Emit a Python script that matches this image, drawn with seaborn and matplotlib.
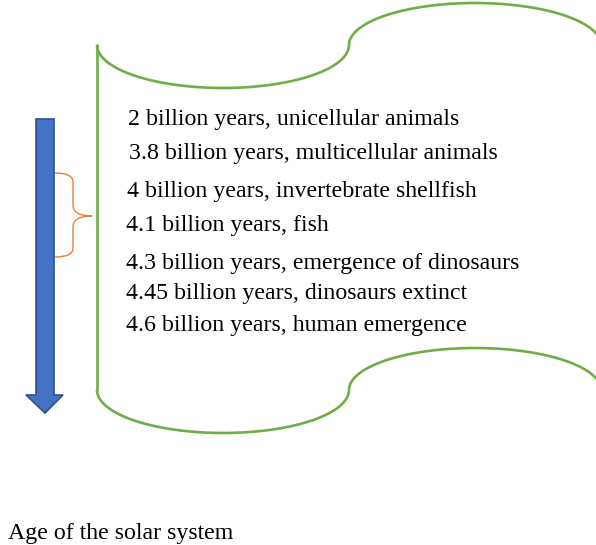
import numpy as np
import matplotlib
matplotlib.use("Agg")
import matplotlib.pyplot as plt
import seaborn as sns
from matplotlib.patches import Polygon
from matplotlib.path import Path
from matplotlib.patches import PathPatch

# ---- data ----
ages = ["2", "3.8", "4", "4.1", "4.3", "4.45", "4.6"]
events = ["unicellular animals", "multicellular animals", "invertebrate shellfish",
          "fish", "emergence of dinosaurs", "dinosaurs extinct", "human emergence"]
axis_title = "Age of the solar system"

# ---- layout (pixels) ----
text_x = [128, 129, 127, 126, 126, 126, 126]
text_y = [120, 154, 191, 226, 263, 293, 325]

sns.set_theme(style="white")
plt.rcParams['font.family'] = ['Liberation Serif', 'DejaVu Serif']

W, H = 596, 545
fig = plt.figure(figsize=(W / 100, H / 100), dpi=100)
ax = fig.add_axes([0, 0, 1, 1])
ax.set_xlim(0, W)
ax.set_ylim(H, 0)
ax.axis("off")

green = "#70AD47"
lw = 1.9

def wave(y0):
    t1 = np.linspace(np.pi, 0, 200)
    xa = 223 + 126 * np.cos(t1)
    ya = y0 + 43 * np.sin(t1)
    t2 = np.linspace(np.pi, 0, 200)
    xb = 475 + 126 * np.cos(t2)
    yb = y0 - 42 * np.sin(t2)
    return np.concatenate([xa, xb]), np.concatenate([ya, yb])

top_y, bot_y = 45, 390
xt, yt = wave(top_y)
xbm, ybm = wave(bot_y)
ax.plot(xt, yt, color=green, lw=lw, solid_capstyle="butt")
ax.plot(xbm, ybm, color=green, lw=lw, solid_capstyle="butt")
ax.plot([97, 97], [top_y, bot_y], color=green, lw=lw)

# blue arrow
arrow = Polygon([(36, 119), (54, 119), (54, 395), (63, 395), (45, 413),
                 (26, 395), (36, 395)], closed=True,
                facecolor="#4472C4", edgecolor="#2F528F", lw=1.2)
ax.add_patch(arrow)

# orange brace
verts = [(55, 173), (73, 173), (73, 182), (73, 190),
         (73, 205), (73, 216), (92, 216),
         (73, 216), (73, 227), (73, 242),
         (73, 248), (73, 257), (55, 257)]
codes = [Path.MOVETO, Path.CURVE3, Path.CURVE3, Path.LINETO,
         Path.LINETO, Path.CURVE3, Path.CURVE3,
         Path.CURVE3, Path.CURVE3, Path.LINETO,
         Path.LINETO, Path.CURVE3, Path.CURVE3]
ax.add_patch(PathPatch(Path(verts, codes), facecolor="none",
                       edgecolor="#ED7D31", lw=1.0))

for a, e, x, y in zip(ages, events, text_x, text_y):
    ax.text(x, y, f"{a} billion years, {e}", fontsize=17.2, color="black",
            ha="left", va="center")

ax.text(8, 533, axis_title, fontsize=17.2, color="black", ha="left", va="center")

fig.savefig("out.png", dpi=100)
